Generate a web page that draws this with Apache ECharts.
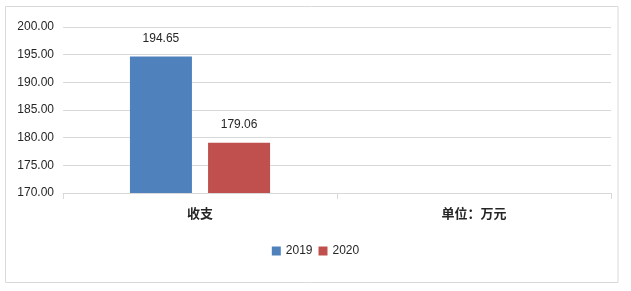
<!DOCTYPE html>
<html><head><meta charset="utf-8">
<script src="https://cdn.jsdelivr.net/npm/echarts@6/dist/echarts.min.js"></script>
<style>html,body{margin:0;padding:0;background:#fff}#c{width:631px;height:291px}</style>
</head><body><div id="c"></div>
<script>
const categories = ['收支', '单位：万元'];
const seriesNames = ['2019', '2020'];
const values2019 = [194.65, null];
const values2020 = [179.06, null];
const colors = ['#4F81BD', '#C0504D'];
const yMin = 170, yMax = 200, yStep = 5;

const chart = echarts.init(document.getElementById('c'), null, {renderer: 'canvas'});
const txt = '#262626';
const font = '"Liberation Sans", Arial, sans-serif';
const cjk = '"Noto Sans CJK SC", "Noto Serif CJK SC", serif';
function mk(name, data, color) {
  return {
    name, type: 'bar', data, barWidth: 62, barGap: '26%',
    itemStyle: {color},
    label: {show: true, position: 'top', distance: 12, color: txt, fontSize: 12, fontFamily: font,
      formatter: p => p.value == null ? '' : p.value.toFixed(2)}
  };
}
chart.setOption({
  animation: false,
  graphic: [{type: 'rect', shape: {x: 5.5, y: 6.5, width: 612.5, height: 276}, style: {fill: 'none', stroke: '#d9d9d9', lineWidth: 1}}],
  grid: {left: 63, right: 20, top: 27, bottom: 98, containLabel: false},
  legend: {
    data: seriesNames, bottom: 29, left: 'center', itemWidth: 9, itemHeight: 9, itemGap: 6,
    icon: 'rect', textStyle: {color: txt, fontSize: 12, fontFamily: font}
  },
  xAxis: {
    type: 'category', data: categories,
    axisLine: {lineStyle: {color: '#d9d9d9'}},
    axisTick: {show: true, length: 6, lineStyle: {color: '#d9d9d9'}},
    axisLabel: {color: txt, fontSize: 13, fontFamily: cjk, margin: 14, fontWeight: 'bold'}
  },
  yAxis: {
    type: 'value', min: yMin, max: yMax, interval: yStep,
    axisLine: {show: false}, axisTick: {show: false},
    splitLine: {lineStyle: {color: '#d9d9d9'}},
    axisLabel: {color: txt, fontSize: 12, fontFamily: font, margin: 9, formatter: v => v.toFixed(2)}
  },
  series: [mk(seriesNames[0], values2019, colors[0]), mk(seriesNames[1], values2020, colors[1])]
});
</script></body></html>
